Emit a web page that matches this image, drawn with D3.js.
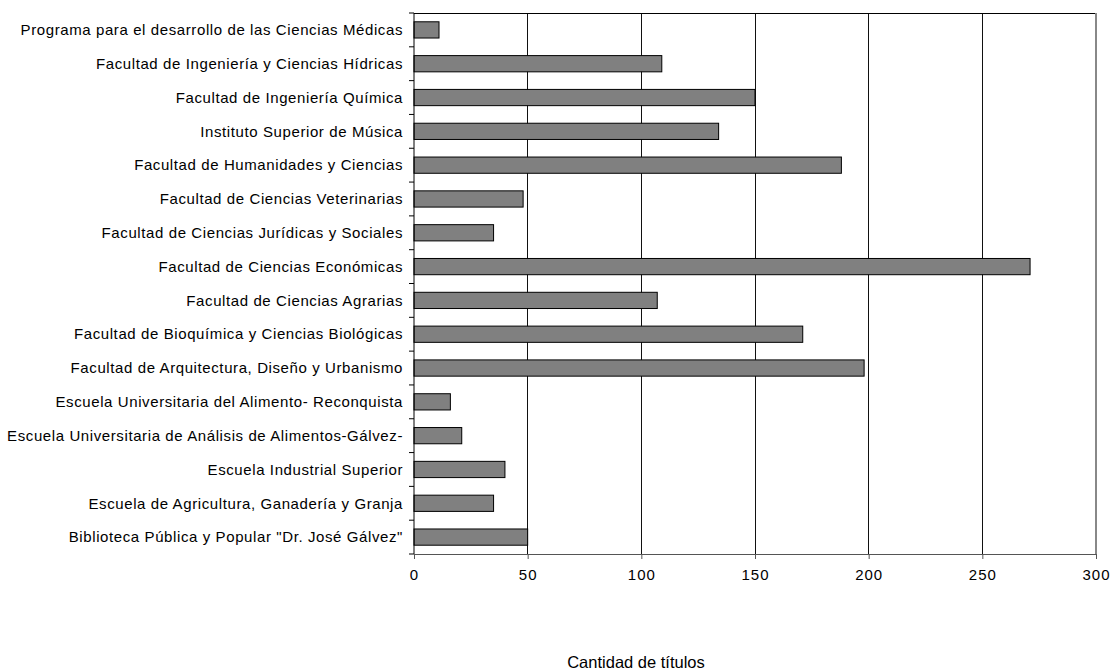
<!DOCTYPE html>
<html><head><meta charset="utf-8">
<script src="https://cdn.jsdelivr.net/npm/d3@7"></script>
<style>body{margin:0;background:#fff;} text{font-family:"Liberation Sans",Arial,sans-serif;}</style>
</head><body>
<svg id="c" width="1116" height="671"></svg>
<script>
const categories = [
  "Programa para el desarrollo de las Ciencias Médicas",
  "Facultad de Ingeniería y Ciencias Hídricas",
  "Facultad de Ingeniería Química",
  "Instituto Superior de Música",
  "Facultad de Humanidades y Ciencias",
  "Facultad de Ciencias Veterinarias",
  "Facultad de Ciencias Jurídicas y Sociales",
  "Facultad de Ciencias Económicas",
  "Facultad de Ciencias Agrarias",
  "Facultad de Bioquímica y Ciencias Biológicas",
  "Facultad de Arquitectura, Diseño y Urbanismo",
  "Escuela Universitaria del Alimento- Reconquista",
  "Escuela Universitaria de Análisis de Alimentos-Gálvez-",
  "Escuela Industrial Superior",
  "Escuela de Agricultura, Ganadería y Granja",
  "Biblioteca Pública y Popular \"Dr. José Gálvez\""
];
const values = [11, 109, 150, 134, 188, 48, 35, 271, 107, 171, 198, 16, 21, 40, 35, 50];
const xTicks = [0, 50, 100, 150, 200, 250, 300];
const xTitle = "Cantidad de títulos";

const svg = d3.select("#c");
const m = {left: 414, right: 1096, top: 13, bottom: 554};
const x = d3.scaleLinear().domain([0, 300]).range([m.left, m.right]);
const y = d3.scaleBand().domain(categories).range([m.top, m.bottom]).paddingInner(0.52).paddingOuter(0.26);

// gridlines
svg.append("g").selectAll("line").data(xTicks.filter(d => d > 0 && d < 300)).join("line")
  .attr("x1", d => x(d)).attr("x2", d => x(d)).attr("y1", m.top).attr("y2", m.bottom)
  .attr("stroke", "#111").attr("stroke-width", 1).attr("shape-rendering", "crispEdges");
// frame: top black, right gray
svg.append("line").attr("x1", m.left).attr("x2", m.right).attr("y1", m.top).attr("y2", m.top)
  .attr("stroke", "#000").attr("shape-rendering", "crispEdges");
svg.append("line").attr("x1", m.right).attr("x2", m.right).attr("y1", m.top).attr("y2", m.bottom)
  .attr("stroke", "#888").attr("stroke-width", 1.5).attr("shape-rendering", "crispEdges");

// bars
svg.append("g").selectAll("rect").data(values).join("rect")
  .attr("x", x(0)).attr("y", (d, i) => y(categories[i]))
  .attr("width", d => x(d) - x(0)).attr("height", y.bandwidth())
  .attr("fill", "#808080").attr("stroke", "#000").attr("stroke-width", 1);

// x axis
const xa = svg.append("g").attr("transform", `translate(0,${m.bottom})`)
  .call(d3.axisBottom(x).tickValues(xTicks).tickSize(5).tickPadding(10).tickSizeOuter(0));
xa.select(".domain").attr("stroke", "#555");
xa.selectAll(".tick line").attr("stroke", "#555");
xa.selectAll("text").attr("font-size", 15).attr("fill", "#000").style("letter-spacing", "1px");

// y axis with ticks at band boundaries
const ya = svg.append("g").attr("transform", `translate(${m.left},0)`);
ya.append("line").attr("x1", 0).attr("x2", 0).attr("y1", m.top).attr("y2", m.bottom).attr("stroke", "#000");
const bounds = d3.range(categories.length + 1).map(i => m.top + i * (m.bottom - m.top) / categories.length);
ya.selectAll("line.t").data(bounds).join("line").attr("class", "t")
  .attr("x1", -5).attr("x2", 0).attr("y1", d => d).attr("y2", d => d).attr("stroke", "#000");
ya.selectAll("text").data(categories).join("text")
  .attr("x", -11).attr("y", d => y(d) + y.bandwidth() / 2).attr("dy", "0.35em")
  .attr("text-anchor", "end").attr("font-size", 15).style("letter-spacing", "0.6px").text(d => d);

svg.append("text").attr("x", 636).attr("y", 668).attr("text-anchor", "middle")
  .attr("font-size", 16.5).text(xTitle);
</script>
</body></html>
